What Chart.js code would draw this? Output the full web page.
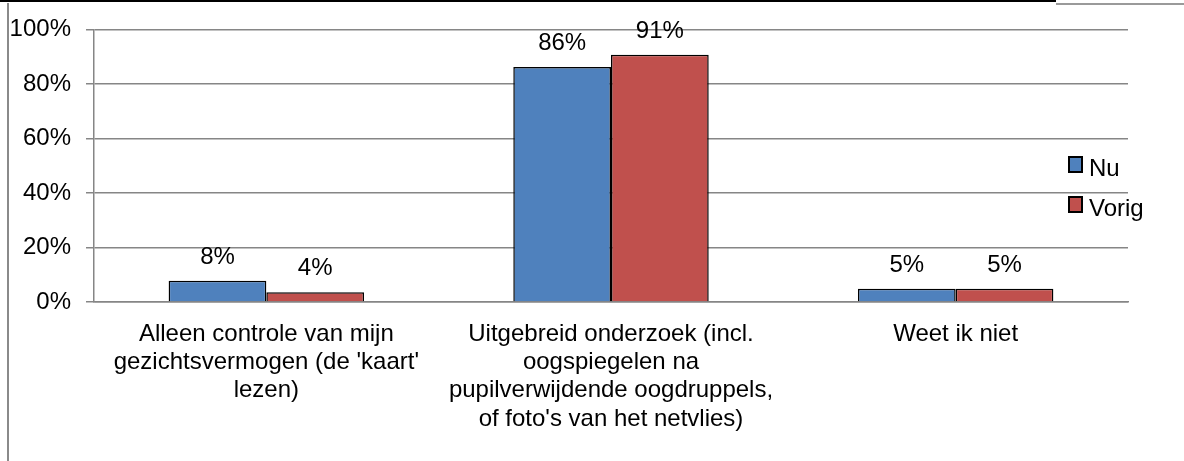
<!DOCTYPE html>
<html>
<head>
<meta charset="utf-8">
<script src="https://cdn.jsdelivr.net/npm/chart.js@4"></script>
<style>
  html, body { margin: 0; padding: 0; background: #fff; }
  #wrap { position: relative; width: 1184px; height: 461px; overflow: hidden; }
  #chart { position: absolute; left: 0; top: 0; }
  .edge-top { position: absolute; left: 0; top: 0; width: 1056px; height: 2px; background: #000; }
  .edge-top-r { position: absolute; left: 1056px; top: 3px; width: 128px; height: 2px; background: #9a9a9a; }
  .edge-left { position: absolute; left: 7px; top: 3px; width: 2px; height: 458px; background: #8a8a8a; }
</style>
</head>
<body>
<div id="wrap">
  <canvas id="chart" width="1184" height="461"></canvas>
  <div class="edge-top"></div>
  <div class="edge-top-r"></div>
  <div class="edge-left"></div>
</div>
<script>
/* global Chart */
const categories = [
  ["Alleen controle van mijn", "gezichtsvermogen (de 'kaart'", "lezen)"],
  ["Uitgebreid onderzoek (incl.", "oogspiegelen na", "pupilverwijdende oogdruppels,", "of foto's van het netvlies)"],
  ["Weet ik niet"],
];
const nuValues = [7.8, 86.2, 4.9];
const vorigValues = [3.6, 90.7, 4.9];
const yTicks = [0, 20, 40, 60, 80, 100];

const FONT = "'Liberation Sans', Arial, sans-serif";
const GRID = "#868686";

// value labels above each bar
const barLabels = {
  id: "barLabels",
  afterDatasetsDraw(chart) {
    const ctx = chart.ctx;
    ctx.save();
    ctx.font = `24px ${FONT}`;
    ctx.fillStyle = "#000";
    ctx.textAlign = "center";
    ctx.textBaseline = "alphabetic";
    chart.data.datasets.forEach((ds, i) => {
      chart.getDatasetMeta(i).data.forEach((bar, j) => {
        ctx.fillText(Math.round(ds.data[j]) + "%", bar.x, bar.y - 17);
      });
    });
    ctx.restore();
  },
};

// legend drawn inside the right part of the chart, like the original
const sideLegend = {
  id: "sideLegend",
  afterDraw(chart) {
    const ctx = chart.ctx;
    ctx.save();
    ctx.font = `24px ${FONT}`;
    ctx.textBaseline = "alphabetic";
    ctx.textAlign = "left";
    chart.data.datasets.forEach((ds, i) => {
      const y = 157 + i * 40;
      ctx.fillStyle = ds.backgroundColor;
      ctx.fillRect(1069, y, 13, 15);
      ctx.strokeStyle = "#000";
      ctx.lineWidth = 2;
      ctx.strokeRect(1069, y, 13, 15);
      ctx.fillStyle = "#000";
      ctx.fillText(ds.label, 1089, y + 19);
    });
    ctx.restore();
  },
};

new Chart(document.getElementById("chart"), {
  type: "bar",
  data: {
    labels: categories,
    datasets: [
      { label: "Nu", data: nuValues, backgroundColor: "#4F81BD", borderColor: "#000", borderWidth: 1.5 },
      { label: "Vorig", data: vorigValues, backgroundColor: "#C0504D", borderColor: "#000", borderWidth: 1.5 },
    ],
  },
  options: {
    responsive: false,
    animation: false,
    devicePixelRatio: 1,
    layout: { padding: { left: 0, right: 56, top: 29, bottom: 0 } },
    datasets: { bar: { categoryPercentage: 0.567, barPercentage: 1.0 } },
    plugins: { legend: { display: false }, tooltip: { enabled: false } },
    scales: {
      x: {
        grid: { display: false, drawTicks: false },
        border: { color: GRID, width: 1.5 },
        ticks: {
          color: "#000",
          font: { family: FONT, size: 24, lineHeight: 1.18 },
          padding: 18,
          maxRotation: 0,
          autoSkip: false,
        },
        afterFit(scale) { scale.height = 159; },
      },
      y: {
        min: 0,
        max: 100,
        afterBuildTicks(scale) { scale.ticks = yTicks.map((v) => ({ value: v })); },
        grid: { color: GRID, lineWidth: 1.5, tickLength: 8, drawTicks: true },
        border: { color: GRID, width: 1.5 },
        ticks: {
          color: "#000",
          font: { family: FONT, size: 24 },
          padding: 15,
          callback: (v) => v + "%",
        },
        afterFit(scale) { scale.width = 94; },
      },
    },
  },
  plugins: [barLabels, sideLegend],
});
</script>
</body>
</html>
